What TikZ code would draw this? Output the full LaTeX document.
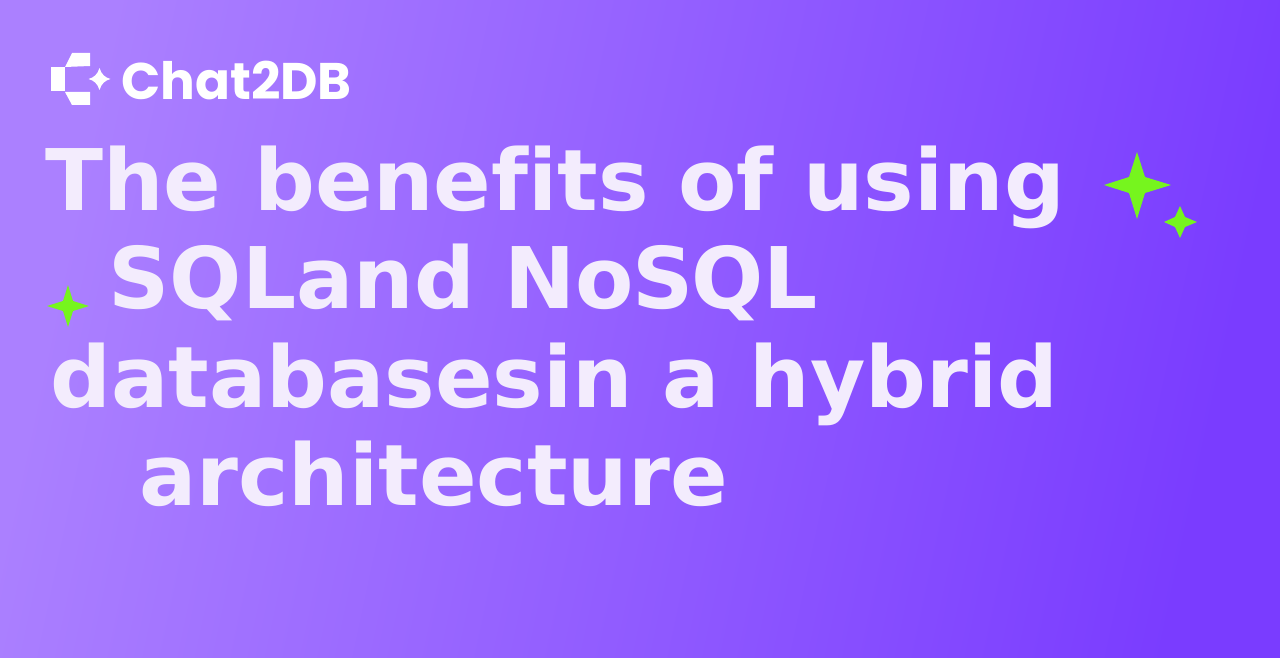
\documentclass[tikz,border=0pt]{standalone}
\usepackage{fontspec}
\setmainfont{DejaVu Sans}[Ligatures=NoCommon]
\newfontfamily\logofont{Poppins}
\usepackage{xcolor}
\usetikzlibrary{positioning,calc}

\definecolor{bgleft}{HTML}{AB80FF}
\definecolor{bgright}{HTML}{7A3CFF}
\definecolor{titletext}{HTML}{F3ECFD}
\definecolor{sparkgreen}{HTML}{76F51E}

\begin{document}
\begin{tikzpicture}[
    x=1pt, y=-1pt,
    titleline/.style={anchor=base west, inner sep=0pt, text=titletext, font=\fontsize{85}{85}\selectfont\bfseries},
    logotext/.style={anchor=base west, inner sep=0pt, text=white, font=\fontsize{51.5}{51.5}\selectfont\logofont\bfseries},
    logopart/.style={fill=white, draw=none},
    spark/.style={fill=sparkgreen, draw=none}
]
    % background
    \useasboundingbox (0,0) rectangle (1280,658);
    \shade [left color=bgleft, right color=bgright, shading angle=78] (0,0) rectangle (1280,658);

    % logo
    \fill [logopart] (51,67) rectangle (65,91);
    \fill [logopart] (65,67) -- (72,53) -- (90,53) -- (90,66) -- cycle;
    \fill [logopart] (65,92) -- (90,92) -- (90,105) -- (72,105) -- cycle;
    \fill [logopart] (99.5,68) .. controls (101.5,74.5) and (105,77.5) .. (110.5,79) .. controls (105,80.5) and (101.5,83.5) .. (99.5,90) .. controls (97.5,83.5) and (94,80.5) .. (88.5,79) .. controls (94,77.5) and (97.5,74.5) .. cycle;
    \node [logotext] (logo) at (121,100) {Chat2DB};

    % title
    \node [titleline] (t1) at (45,210) {The\kern4pt{} benefits of using};
    \node [titleline] (t2) at (108.5,308) {SQLand No\kern-2pt S\kern-2pt QL};
    \node [titleline] (t3) at (50,407) {databasesin a hybrid};
    \node [titleline] (t4) at (139,505) {architecture};

    % sparkles
    \fill [spark] (1137,152) -- (1145,177) -- (1171,185) -- (1145,193) -- (1137,219) -- (1129,193) -- (1104,185) -- (1129,177) -- cycle;
    \fill [spark] (1180,206) -- (1185,217) -- (1197,222) -- (1185,227) -- (1180,238) -- (1175,227) -- (1164,222) -- (1175,217) -- cycle;
    \fill [spark] (68,285) -- (73,301) -- (89,306) -- (73,311) -- (68,327) -- (63,311) -- (47,306) -- (63,301) -- cycle;
\end{tikzpicture}
\end{document}
